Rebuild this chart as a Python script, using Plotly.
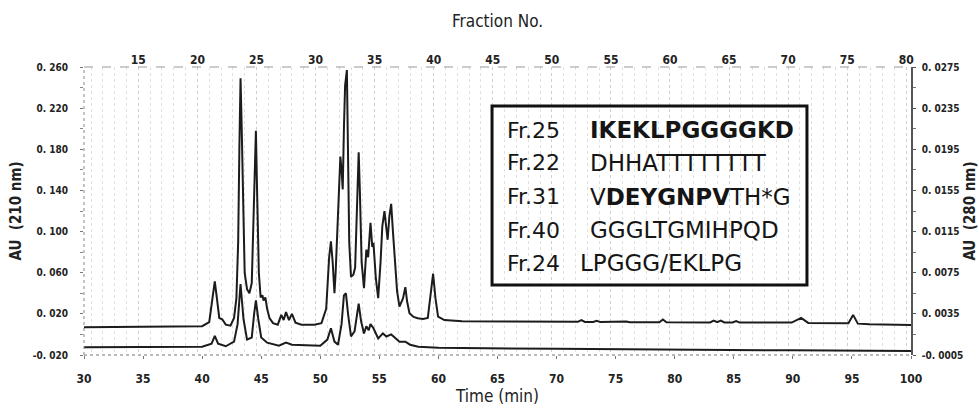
import plotly.graph_objects as go

# ---------------- data ----------------
# 210 nm trace (left axis, AU)
t210 = [30.0, 35.0, 38.0, 40.0, 40.6, 40.9, 41.07, 41.25, 41.45, 41.7, 42.0, 42.4, 42.7, 42.9,
        43.05, 43.15, 43.25, 43.35, 43.45, 43.6, 43.8, 44.0, 44.2, 44.35, 44.5, 44.55, 44.65,
        44.8, 44.95, 45.1, 45.2, 45.35, 45.5, 45.7, 46.0, 46.4, 46.7, 46.9, 47.1, 47.35, 47.6,
        47.9, 48.4, 49.5, 50.1, 50.5, 50.75, 50.9, 51.05, 51.2, 51.3, 51.45, 51.6, 51.7, 51.8,
        51.9, 52.0, 52.1, 52.25, 52.35, 52.45, 52.6, 52.8, 52.95, 53.1, 53.25, 53.35, 53.5,
        53.7, 53.9, 54.05, 54.25, 54.4, 54.5, 54.7, 54.9, 55.1, 55.25, 55.43, 55.6, 55.7, 55.85,
        56.0, 56.15, 56.3, 56.5, 56.7, 57.0, 57.2, 57.35, 57.55, 57.9, 58.25, 58.7, 59.1, 59.3,
        59.55, 59.75, 59.97, 60.5, 62.0, 66.0, 70.0, 71.8, 72.1, 72.4, 73.1, 73.4, 73.7, 75.6,
        75.9, 76.2, 78.7, 79.0, 79.3, 83.0, 83.3, 83.6, 83.9, 84.2, 84.9, 85.2, 85.5, 89.9,
        90.7, 91.3, 94.7, 95.1, 95.5, 96.5, 100.0]
au210 = [0.0070, 0.0072, 0.0075, 0.0080, 0.0120, 0.0400, 0.0515, 0.0350, 0.0160, 0.0148, 0.0095,
         0.0085, 0.0160, 0.0350, 0.0900, 0.1800, 0.2490, 0.2000, 0.1300, 0.0600, 0.0440, 0.0400,
         0.0500, 0.1100, 0.1900, 0.1980, 0.1400, 0.0600, 0.0360, 0.0380, 0.0330, 0.0360, 0.0250,
         0.0160, 0.0110, 0.0095, 0.0190, 0.0140, 0.0217, 0.0140, 0.0200, 0.0115, 0.0095, 0.0095,
         0.0110, 0.0250, 0.0750, 0.0905, 0.0700, 0.0400, 0.0600, 0.1000, 0.1500, 0.1730, 0.1600,
         0.1410, 0.2000, 0.2420, 0.2570, 0.1700, 0.0900, 0.0560, 0.0580, 0.0650, 0.1300, 0.1770,
         0.1400, 0.0700, 0.0450, 0.0824, 0.0750, 0.1085, 0.0850, 0.0890, 0.0550, 0.0353, 0.0700,
         0.1050, 0.1198, 0.0980, 0.0920, 0.1150, 0.1270, 0.1000, 0.0727, 0.0420, 0.0270, 0.0350,
         0.0460, 0.0320, 0.0207, 0.0170, 0.0158, 0.0150, 0.0160, 0.0350, 0.0590, 0.0350, 0.0174,
         0.0140, 0.0128, 0.0125, 0.0123, 0.0123, 0.0140, 0.0122, 0.0121, 0.0132, 0.0120, 0.0119,
         0.0126, 0.0118, 0.0118, 0.0145, 0.0118, 0.0117, 0.0135, 0.0120, 0.0135, 0.0117, 0.0117,
         0.0130, 0.0115, 0.0115, 0.0160, 0.0112, 0.0108, 0.0190, 0.0105, 0.0098, 0.0092]

# 280 nm trace (right axis, AU)
t280 = [30.0, 40.0, 40.8, 41.07, 41.35, 42.0, 42.7, 43.0, 43.25, 43.5, 43.8, 44.2, 44.4, 44.55,
        44.75, 45.0, 45.5, 46.5, 47.1, 47.6, 50.0, 50.6, 50.9, 51.2, 51.5, 51.8, 52.0, 52.17,
        52.35, 52.6, 52.9, 53.25, 53.45, 53.7, 53.9, 54.1, 54.25, 54.5, 54.9, 55.3, 55.6, 56.0,
        56.3, 56.7, 57.2, 57.6, 58.3, 60.0, 70.0, 80.0, 90.0, 100.0]
au280 = [0.00025, 0.00030, 0.00060, 0.00135, 0.00060, 0.00035, 0.00080, 0.00250, 0.00640,
         0.00300, 0.00100, 0.00120, 0.00350, 0.00480, 0.00300, 0.00120, 0.00070, 0.00040,
         0.00070, 0.00050, 0.00040, 0.00100, 0.00210, 0.00080, 0.00050, 0.00250, 0.00530,
         0.00550, 0.00350, 0.00130, 0.00180, 0.00450, 0.00280, 0.00160, 0.00230, 0.00190,
         0.00250, 0.00210, 0.00110, 0.00160, 0.00130, 0.00150, 0.00120, 0.00080, 0.00080,
         0.00050, 0.00030, 0.00020, 0.00010, 0.00000, -0.00005, -0.00010]

# axis ticks
time_ticks = [30, 35, 40, 45, 50, 55, 60, 65, 70, 75, 80, 85, 90, 95, 100]
fraction_ticks = [15, 20, 25, 30, 35, 40, 45, 50, 55, 60, 65, 70, 75, 80]
left_tickvals = [-0.020, 0.020, 0.060, 0.100, 0.140, 0.180, 0.220, 0.260]
left_ticktext = ["-0. 020", "0. 020", "0. 060", "0. 100", "0. 140", "0. 180", "0. 220", "0. 260"]
right_tickvals = [-0.0005, 0.0035, 0.0075, 0.0115, 0.0155, 0.0195, 0.0235, 0.0275]
right_ticktext = ["-0. 0005", "0. 0035", "0. 0075", "0. 0115", "0. 0155", "0. 0195", "0. 0235", "0. 0275"]

# peptide table
fr_labels = ["Fr.25", "Fr.22", "Fr.31", "Fr.40", "Fr.24"]
sequences = ["<b>IKEKLPGGGGKD</b>", "DHHATTTTTTTT", "V<b>DEYGNPV</b>TH*G", "GGGLTGMIHPQD", "LPGGG/EKLPG"]

# ---------------- figure ----------------
FAM = "DejaVu Sans Condensed"
Y_FONT = dict(family=FAM, size=10, color="#222", weight="bold")
X_FONT = dict(family=FAM, size=12, color="#222", weight="bold")
TOP_FONT = dict(family=FAM, size=12, color="#222", weight="bold")
TITLE_FONT = dict(family=FAM, size=17, color="#222")
YTITLE_FONT = dict(family=FAM, size=15, color="#222", weight="bold")
LINE = "#1c1c1c"

fig = go.Figure()
fig.add_trace(go.Scatter(x=t210, y=au210, mode="lines", line=dict(color=LINE, width=2),
                         name="210 nm", xaxis="x", yaxis="y", hoverinfo="skip"))
fig.add_trace(go.Scatter(x=t280, y=au280, mode="lines", line=dict(color=LINE, width=2),
                         name="280 nm", xaxis="x", yaxis="y2", hoverinfo="skip"))
# carrier for the fraction axis
fig.add_trace(go.Scatter(x=fraction_ticks, y=[None] * len(fraction_ticks), mode="lines",
                         xaxis="x2", yaxis="y", showlegend=False, hoverinfo="skip"))

fig.update_layout(
    width=979, height=408,
    margin=dict(l=84, r=68, t=67, b=53),
    paper_bgcolor="white", plot_bgcolor="white",
    showlegend=False,
    xaxis=dict(range=[30, 100], tickvals=time_ticks, ticks="outside", ticklen=3,
               tickcolor="#777", showline=False, showgrid=False, zeroline=False,
               tickfont=X_FONT, ticklabelstandoff=10, automargin=False,
               title=dict(text="Time (min)", font=TITLE_FONT, standoff=0)),
    xaxis2=dict(range=[10.4, 80.4], overlaying="x", side="top", anchor="y",
                tickvals=fraction_ticks, ticks="", showline=False, zeroline=False,
                tickfont=TOP_FONT, ticklabelstandoff=0, automargin=False,
                showgrid=True, gridcolor="#cfcfcf", griddash="dot", gridwidth=1,
                minor=dict(dtick=1, tick0=0, showgrid=True, gridcolor="#e0e0e0",
                           griddash="dot", gridwidth=1),
                title=dict(text="Fraction No.", font=TITLE_FONT, standoff=20)),
    yaxis=dict(range=[-0.020, 0.260], tickvals=left_tickvals, ticktext=left_ticktext,
               ticks="outside", ticklen=3, tickcolor="#777", showline=False,
               showgrid=False, zeroline=False, tickfont=Y_FONT, ticklabelstandoff=10,
               automargin=False,
               minor=dict(tickvals=[0.0, 0.04, 0.08, 0.12, 0.16, 0.20, 0.24],
                          ticks="outside", ticklen=3, tickcolor="#888"),
               title=dict(text="AU\u00a0\u00a0(210\u00a0nm)", font=YTITLE_FONT, standoff=7)),
    yaxis2=dict(range=[-0.0005, 0.0275], overlaying="y", side="right", anchor="x",
                tickvals=right_tickvals, ticktext=right_ticktext,
                ticks="outside", ticklen=3, tickcolor="#555", showline=True,
                linecolor="#555", linewidth=1.5, showgrid=False, zeroline=False,
                tickfont=Y_FONT, ticklabelstandoff=4, automargin=False,
                minor=dict(tickvals=[0.0015, 0.0055, 0.0095, 0.0135, 0.0175, 0.0215, 0.0255],
                           ticks="outside", ticklen=3, tickcolor="#777"),
                title=dict(text="AU\u00a0\u00a0(280\u00a0nm)", font=YTITLE_FONT, standoff=6)),
)

# frame lines (dotted left / bottom, dashed top)
fig.add_shape(type="line", xref="paper", yref="paper", x0=0, x1=0, y0=0, y1=1,
              line=dict(color="#888", width=1, dash="dot"))
fig.add_shape(type="line", xref="paper", yref="paper", x0=0, x1=1, y0=0, y1=0,
              line=dict(color="#777", width=1, dash="dot"))
fig.add_shape(type="line", xref="paper", yref="paper", x0=0, x1=1, y0=1, y1=1,
              line=dict(color="#999", width=1, dash="dash"))

# peptide box
fig.add_shape(type="rect", xref="paper", yref="paper", x0=0.4934, x1=0.8742, y0=0.2431, y1=0.8646,
              line=dict(color="#111", width=3), fillcolor="rgba(0,0,0,0)", layer="above")
row_y = [0.781, 0.667, 0.549, 0.434, 0.319]
seq_x = [0.609, 0.609, 0.609, 0.609, 0.597]
LAB_FONT = dict(family="DejaVu Sans", size=22, color="#151515")
SEQ_FONT = dict(family="DejaVu Sans", size=23, color="#151515")
for lab, seq, yy, sx in zip(fr_labels, sequences, row_y, seq_x):
    fig.add_annotation(x=0.509, y=yy, xref="paper", yref="paper", text=lab, showarrow=False,
                       xanchor="left", yanchor="middle", font=LAB_FONT)
    fig.add_annotation(x=sx, y=yy, xref="paper", yref="paper", text=seq, showarrow=False,
                       xanchor="left", yanchor="middle", font=SEQ_FONT)

fig.write_html("out.html", config={"displayModeBar": False},
               post_script="document.body.style.margin='0';")
